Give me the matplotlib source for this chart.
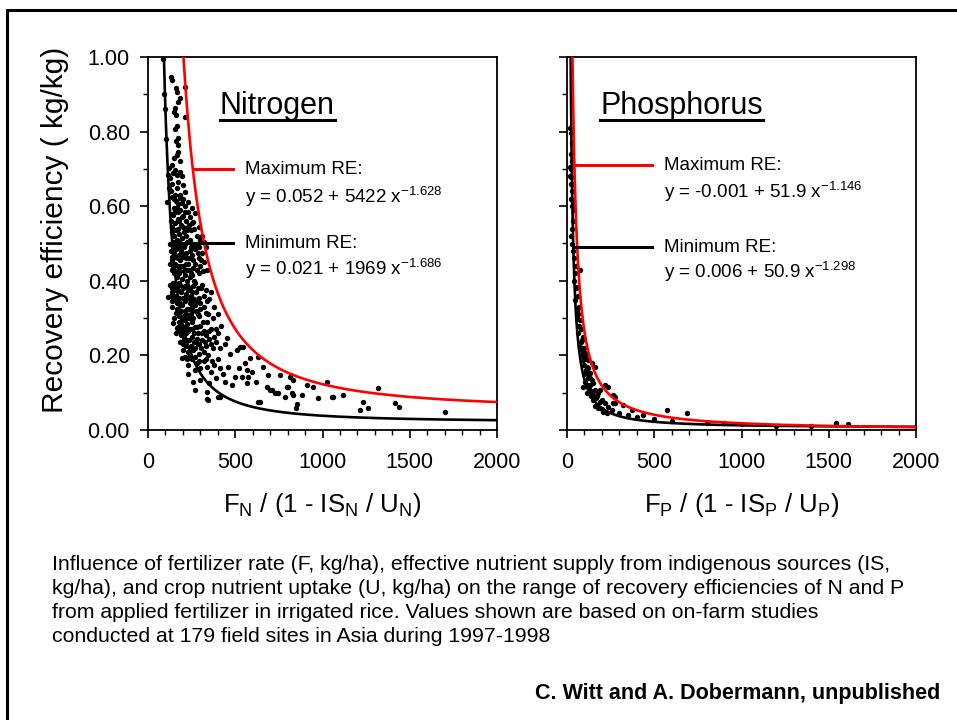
import numpy as np
import matplotlib
matplotlib.use('Agg')
import matplotlib.pyplot as plt
from matplotlib.patches import Rectangle
from matplotlib.lines import Line2D
from matplotlib.ticker import MultipleLocator, FormatStrFormatter

plt.rcParams['font.family'] = ['Liberation Sans', 'DejaVu Sans']
plt.rcParams['mathtext.fontset'] = 'custom'
plt.rcParams['mathtext.rm'] = 'Liberation Sans'
plt.rcParams['mathtext.it'] = 'Liberation Sans:italic'

# Nitrogen: fertilizer-corrected rate vs recovery efficiency
n_x = [88, 132, 136, 159, 164, 212, 94,
       183, 174, 155, 151, 159, 212, 164, 155, 100,
       174, 159, 174, 170, 164, 136, 120, 155, 145, 183, 105, 150,
       164, 183, 193, 116, 126, 174, 202, 164, 212, 155, 183, 231, 193, 107, 140, 130, 150, 170, 120, 210,
       250, 269, 260, 164, 145, 174, 126, 140, 155, 185, 200, 215, 230, 245, 170, 190, 205, 220, 150, 165,
       180, 195, 240, 260, 280, 300, 320, 135, 210, 230, 130, 175, 250, 155, 225,
       130, 145, 160, 175, 190, 205, 220, 235, 250, 270, 290, 310, 330, 140, 155, 170, 185, 200, 215, 230,
       245, 260, 280, 300, 150, 165, 180, 195, 210, 225, 240, 265, 135, 160, 180, 320, 340, 125, 200, 255,
       116, 136, 125, 140, 155, 170, 185, 200, 215, 230, 245, 260, 275, 290, 305, 320, 340, 360, 150, 165,
       180, 195, 210, 225, 240, 255, 270, 285, 300, 330, 380, 160, 175, 190, 205, 220, 235, 250, 400, 145, 130,
       145, 164, 174, 180, 195, 210, 225, 240, 255, 270, 285, 300, 320, 340, 360, 380, 400, 451, 420, 190,
       205, 220, 235, 250, 265, 280, 295, 310, 330, 350, 370, 390, 508, 527, 546, 215, 230, 260, 290, 320,
       440, 470, 200, 345,
       193, 231, 269, 250, 280, 300, 320, 340, 360, 380, 410, 430, 460, 441, 585, 556, 632, 499, 537, 565,
       594, 566, 575, 690, 680, 756, 699, 709, 814, 833, 823, 909, 947, 1024, 1320, 795, 804, 269, 300, 350,
       390, 480, 520, 620, 660, 230, 260,
       336, 346, 403, 413, 336, 632, 642, 728, 785, 852, 881, 833, 846, 976, 1052, 1062, 1115, 1234, 1215,
       1259, 1415, 1440, 1702, 747,
       135, 160, 185, 200,
       150, 170, 195, 210, 240,
       140, 160, 180, 200, 235, 265, 290,
       145, 160, 190, 225, 245, 275, 295, 310,
       135, 150, 170, 195, 215, 240, 260, 285, 305,
       145, 160, 175, 190, 205, 220, 235, 255, 270, 290, 315,
       135, 150, 165, 175, 190, 210, 225, 240, 255, 270, 285, 310, 335,
       140, 155, 170, 185, 200, 220, 235, 250, 265, 280, 300, 320, 350,
       150, 165, 180, 195, 210, 230, 245, 260, 275, 295, 315, 345, 370,
       160, 175, 185, 200, 215, 230, 250, 265, 280, 310, 330, 350, 390,
       185, 200, 215, 245, 270, 285, 305, 325, 360, 410,
       210, 225, 240, 270, 295, 330, 365, 400]
n_y = [0.995, 0.947, 0.938, 0.916, 0.907, 0.920, 0.900,
       0.889, 0.880, 0.862, 0.853, 0.845, 0.838, 0.814, 0.807, 0.860,
       0.783, 0.774, 0.764, 0.746, 0.737, 0.710, 0.702, 0.697, 0.688, 0.720, 0.780, 0.730,
       0.684, 0.693, 0.680, 0.684, 0.675, 0.666, 0.657, 0.648, 0.639, 0.630, 0.621, 0.612, 0.608, 0.612, 0.660,
       0.640, 0.620, 0.605, 0.650, 0.600,
       0.594, 0.581, 0.558, 0.594, 0.576, 0.567, 0.500, 0.580, 0.555, 0.590, 0.575, 0.560, 0.545, 0.535, 0.540,
       0.550, 0.530, 0.520, 0.520, 0.510,
       0.505, 0.515, 0.510, 0.500, 0.520, 0.510, 0.505, 0.530, 0.500, 0.585, 0.560, 0.525, 0.555, 0.585, 0.535,
       0.480, 0.490, 0.485, 0.470, 0.480, 0.490, 0.475, 0.460, 0.470, 0.485, 0.460, 0.475, 0.490, 0.455, 0.445,
       0.440, 0.455, 0.440, 0.430, 0.445,
       0.420, 0.435, 0.430, 0.440, 0.420, 0.410, 0.420, 0.405, 0.415, 0.400, 0.410, 0.400, 0.430, 0.465, 0.490,
       0.450, 0.430, 0.445, 0.465, 0.495,
       0.357, 0.330, 0.390, 0.370, 0.385, 0.375, 0.390, 0.380, 0.365, 0.375, 0.360, 0.385, 0.370, 0.355, 0.380,
       0.360, 0.345, 0.370, 0.350, 0.340,
       0.355, 0.335, 0.345, 0.325, 0.340, 0.320, 0.335, 0.310, 0.325, 0.315, 0.330, 0.315, 0.305, 0.320, 0.305,
       0.310, 0.300, 0.345, 0.310, 0.395, 0.360,
       0.287, 0.273, 0.276, 0.290, 0.280, 0.295, 0.285, 0.270, 0.290, 0.275, 0.260, 0.280, 0.265, 0.290, 0.270,
       0.250, 0.260, 0.246, 0.280, 0.255,
       0.245, 0.260, 0.240, 0.250, 0.235, 0.245, 0.230, 0.240, 0.225, 0.245, 0.220, 0.235, 0.214, 0.223, 0.223,
       0.225, 0.210, 0.215, 0.205, 0.210,
       0.230, 0.205, 0.215, 0.200,
       0.192, 0.174, 0.161, 0.190, 0.180, 0.165, 0.185, 0.170, 0.155, 0.175, 0.165, 0.150, 0.170, 0.130, 0.192,
       0.179, 0.196, 0.143, 0.143, 0.125,
       0.156, 0.161, 0.143, 0.147, 0.116, 0.147, 0.107, 0.107, 0.143, 0.134, 0.098, 0.121, 0.116, 0.130, 0.113,
       0.116, 0.116, 0.107, 0.135, 0.125,
       0.140, 0.120, 0.165, 0.130, 0.170, 0.150, 0.130,
       0.083, 0.080, 0.089, 0.089, 0.101, 0.074, 0.076, 0.098, 0.089, 0.071, 0.094, 0.094, 0.058, 0.085, 0.089,
       0.089, 0.095, 0.074, 0.054, 0.058, 0.073, 0.062, 0.047, 0.098,
       0.625, 0.615, 0.630, 0.620,
       0.595, 0.585, 0.570, 0.585, 0.570,
       0.545, 0.535, 0.560, 0.545, 0.550, 0.540, 0.545,
       0.505, 0.495, 0.500, 0.505, 0.490, 0.500, 0.490, 0.520,
       0.465, 0.475, 0.460, 0.470, 0.460, 0.480, 0.455, 0.475, 0.455,
       0.435, 0.425, 0.430, 0.440, 0.425, 0.445, 0.430, 0.415, 0.445, 0.420, 0.425,
       0.380, 0.375, 0.390, 0.395, 0.370, 0.385, 0.390, 0.380, 0.370, 0.395, 0.380, 0.390, 0.375,
       0.345, 0.360, 0.355, 0.340, 0.355, 0.350, 0.355, 0.330, 0.350, 0.345, 0.340, 0.330, 0.350,
       0.300, 0.325, 0.310, 0.300, 0.320, 0.325, 0.310, 0.300, 0.320, 0.305, 0.290, 0.310, 0.300,
       0.260, 0.265, 0.275, 0.265, 0.275, 0.265, 0.270, 0.260, 0.275, 0.260, 0.255, 0.265, 0.270,
       0.235, 0.230, 0.240, 0.225, 0.220, 0.230, 0.220, 0.235, 0.230, 0.220,
       0.195, 0.190, 0.200, 0.195, 0.185, 0.190, 0.185, 0.190]

# Phosphorus
p_x = [23, 27, 20, 25, 30, 22, 28, 35, 40, 26, 24, 21, 32, 18, 20, 22,
       23, 27, 33, 40, 50, 74, 35, 30,
       46, 55, 46, 55, 74, 65, 84, 74, 103, 93, 122, 141, 112, 160, 131, 93, 141, 150, 160, 112, 179, 198,
       218, 237, 265, 275, 208, 227, 256,
       437, 571, 686, 371, 323, 275, 265, 237, 218, 189,
       62, 70, 80, 90, 100, 85, 110, 120, 130, 170, 190, 300, 350, 400, 500, 600, 800, 1000, 1541, 1612,
       1200, 1400, 900, 40, 50, 60, 70, 95, 105, 115, 125, 135, 150, 160, 180, 200,
       65, 78, 88, 98, 108, 118, 128, 138, 148, 165, 120, 100, 130]
p_y = [0.795, 0.769, 0.680, 0.660, 0.640, 0.620, 0.600, 0.610, 0.590, 0.720, 0.740, 0.700, 0.660, 0.810,
       0.705, 0.678,
       0.520, 0.500, 0.480, 0.460, 0.440, 0.430, 0.560, 0.540,
       0.420, 0.384, 0.349, 0.322, 0.295, 0.259, 0.241, 0.223, 0.206, 0.188, 0.188, 0.179, 0.170, 0.170, 0.152,
       0.116, 0.134, 0.125, 0.107, 0.098, 0.098, 0.080,
       0.072, 0.063, 0.072, 0.089, 0.049, 0.045, 0.054,
       0.040, 0.054, 0.045, 0.054, 0.067, 0.072, 0.095, 0.116, 0.121, 0.107,
       0.360, 0.330, 0.270, 0.250, 0.220, 0.200, 0.200, 0.150, 0.120, 0.090, 0.075, 0.045, 0.040, 0.035,
       0.030, 0.025, 0.020, 0.015, 0.020, 0.017,
       0.012, 0.012, 0.020, 0.400, 0.380, 0.300, 0.280, 0.150, 0.130, 0.120, 0.100, 0.090, 0.080, 0.065,
       0.060, 0.055,
       0.310, 0.235, 0.215, 0.175, 0.160, 0.140, 0.110, 0.105, 0.095, 0.085, 0.165, 0.195, 0.140]

# fitted curves y = a + b * x^c (from the figure)
n_max = [0.052, 5422, -1.628]
n_min = [0.021, 1969, -1.686]
p_max = [-0.001, 51.9, -1.146]
p_min = [0.006, 50.9, -1.298]


def fit_curve(params, x):
    a, b, c = params
    return a + b * x ** c


fig = plt.figure(figsize=(9.57, 7.2), dpi=100)

# outer frame
fig.patches.append(Rectangle((7 / 957, -0.05), 1.1, 1 - 10 / 720 + 0.05, transform=fig.transFigure,
                             fill=False, edgecolor='black', linewidth=2.2))

ax1 = fig.add_axes([148 / 957, 290 / 720, 349 / 957, 373 / 720])
ax2 = fig.add_axes([567 / 957, 290 / 720, 349 / 957, 373 / 720])

panels = [
    (ax1, n_x, n_y, n_max, n_min, np.linspace(80, 2000, 2000)),
    (ax2, p_x, p_y, p_max, p_min, np.linspace(15, 2000, 4000)),
]

for ax, xs, ys, pmax, pmin, xc in panels:
    ax.scatter(xs, ys, s=15, color='black', zorder=3, linewidths=0)
    ax.plot(xc, fit_curve(pmin, xc), color='black', linewidth=1.9, zorder=4)
    ax.plot(xc, fit_curve(pmax, xc), color='#ff0000', linewidth=1.9, zorder=5)
    ax.set_xlim(0, 2000)
    ax.set_ylim(0, 1.0)
    ax.xaxis.set_major_locator(MultipleLocator(500))
    ax.xaxis.set_minor_locator(MultipleLocator(100))
    ax.yaxis.set_major_locator(MultipleLocator(0.2))
    ax.yaxis.set_minor_locator(MultipleLocator(0.1))
    ax.yaxis.set_major_formatter(FormatStrFormatter('%.2f'))
    ax.tick_params(which='major', direction='out', length=6, width=1.2, labelsize=15.5)
    ax.tick_params(axis='x', which='major', pad=10)
    ax.tick_params(axis='y', which='major', pad=7)
    ax.tick_params(which='minor', direction='out', length=3.5, width=1.0)
    for sp in ax.spines.values():
        sp.set_linewidth(1.3)

ax2.tick_params(axis='y', labelleft=False)

# panel titles
t1 = ax1.text(0.205, 0.846, 'Nitrogen', transform=ax1.transAxes, fontsize=22)
t2 = ax2.text(0.095, 0.846, 'Phosphorus', transform=ax2.transAxes, fontsize=22)


# legend keys drawn as lines with equations
def key(ax, x0, x1, y, color, title, eq, ty):
    ax.add_line(Line2D([x0, x1], [y, y], transform=ax.transAxes, color=color, linewidth=2.2,
                       zorder=6, clip_on=False))
    ax.text(x1 + 0.035, y, title, transform=ax.transAxes, fontsize=13.5, va='center')
    ax.text(x1 + 0.035, ty, eq, transform=ax.transAxes, fontsize=13.5, va='center')


key(ax1, (193 - 148) / 349, (233 - 148) / 349, (430 - 169) / 373, '#ff0000',
    'Maximum RE:', r'y = 0.052 + 5422 x$^{\mathrm{-1.628}}$', (430 - 197) / 373)
key(ax1, (170 - 148) / 349, (233 - 148) / 349, (430 - 243) / 373, 'black',
    'Minimum RE:', r'y = 0.021 + 1969 x$^{\mathrm{-1.686}}$', (430 - 269) / 373)
key(ax2, (574 - 567) / 349, (652 - 567) / 349, (430 - 165) / 373, '#ff0000',
    'Maximum RE:', r'y = -0.001 + 51.9 x$^{\mathrm{-1.146}}$', (430 - 192) / 373)
key(ax2, (574 - 567) / 349, (652 - 567) / 349, (430 - 247) / 373, 'black',
    'Minimum RE:', r'y = 0.006 + 50.9 x$^{\mathrm{-1.298}}$', (430 - 272) / 373)

# axis labels
fig.text(55 / 957, 1 - 230 / 720, 'Recovery efficiency ( kg/kg)', rotation=90, fontsize=21.5,
         ha='center', va='center')
fig.text(322 / 957, 1 - 505 / 720, r'F$_\mathrm{N}$ / (1 - IS$_\mathrm{N}$ / U$_\mathrm{N}$)',
         fontsize=18.5, ha='center', va='center')
fig.text(742 / 957, 1 - 505 / 720, r'F$_\mathrm{P}$ / (1 - IS$_\mathrm{P}$ / U$_\mathrm{P}$)',
         fontsize=18.5, ha='center', va='center')

caption = ['Influence of fertilizer rate (F, kg/ha), effective nutrient supply from indigenous sources (IS,',
           'kg/ha), and crop nutrient uptake (U, kg/ha) on the range of recovery efficiencies of N and P',
           'from applied fertilizer in irrigated rice. Values shown are based on on-farm studies',
           'conducted at 179 field sites in Asia during 1997-1998']
for i, line in enumerate(caption):
    fig.text(52 / 957, 1 - (565 + 24 * i) / 720, line, fontsize=15.3, va='center')

fig.text(940 / 957, 1 - 693 / 720, 'C. Witt and A. Dobermann, unpublished', fontsize=15.5,
         fontweight='bold', ha='right', va='center')

# underline the panel titles
fig.canvas.draw()
r = fig.canvas.get_renderer()
for t in (t1, t2):
    bb = t.get_window_extent(renderer=r).transformed(fig.transFigure.inverted())
    fig.add_artist(Line2D([bb.x0, bb.x1], [bb.y0 + 0.002, bb.y0 + 0.002], transform=fig.transFigure,
                          color='black', linewidth=2.2))

fig.savefig('out.png', dpi=100)
